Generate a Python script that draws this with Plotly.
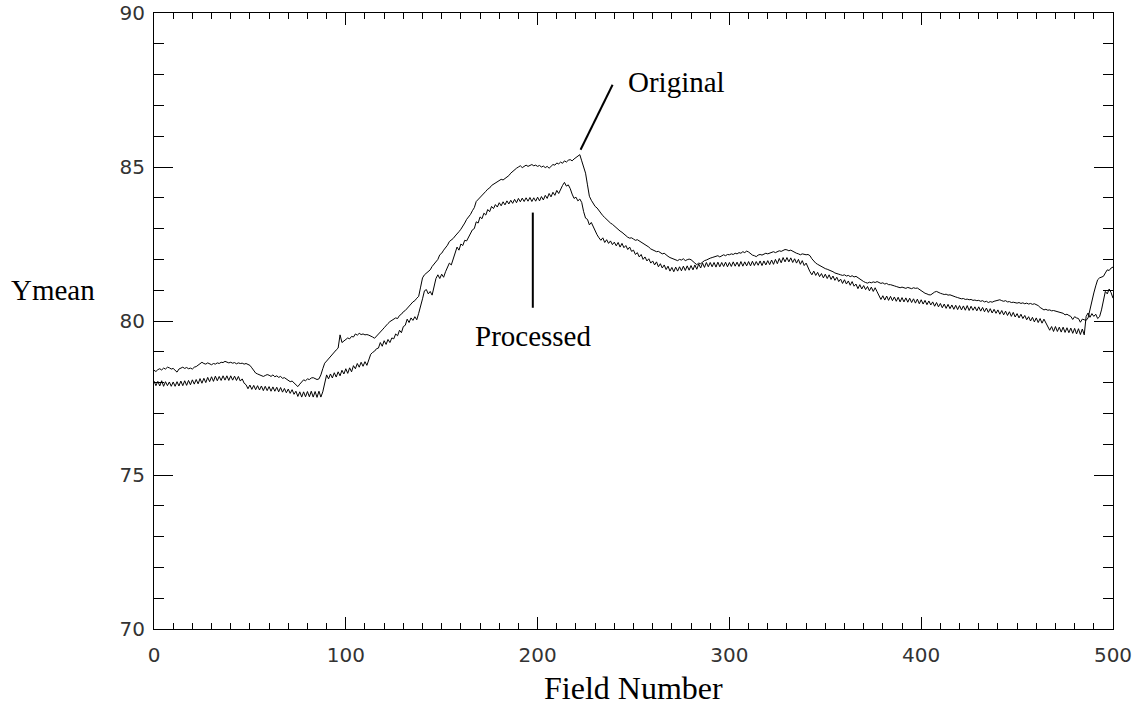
import plotly.graph_objects as go

# Field numbers (x axis)
field_number = list(range(501))

# Ymean of the processed sequence, one value per field (rows of 10 fields)
processed = [
    78.05, 77.90, 78.04, 77.89, 78.06, 77.88, 78.03, 77.90, 78.02, 77.88,
    78.02, 77.88, 78.03, 77.89, 78.05, 77.90, 78.06, 77.91, 78.07, 77.93,
    78.09, 77.95, 78.10, 77.96, 78.13, 77.98, 78.14, 78.00, 78.17, 78.03,
    78.19, 78.04, 78.21, 78.06, 78.20, 78.07, 78.22, 78.08, 78.22, 78.07,
    78.22, 78.08, 78.21, 78.07, 78.20, 78.05, 78.12, 77.98, 77.93, 77.80,
    77.92, 77.78, 77.91, 77.77, 77.90, 77.76, 77.89, 77.74, 77.88, 77.74,
    77.87, 77.72, 77.86, 77.72, 77.85, 77.70, 77.84, 77.69, 77.81, 77.67,
    77.79, 77.65, 77.77, 77.62, 77.72, 77.55, 77.70, 77.53, 77.70, 77.54,
    77.71, 77.54, 77.72, 77.53, 77.71, 77.52, 77.72, 77.53, 77.70, 77.95,
    78.25, 78.12, 78.28, 78.15, 78.32, 78.18, 78.35, 78.22, 78.40, 78.28,
    78.45, 78.30, 78.48, 78.35, 78.55, 78.45, 78.62, 78.50, 78.66, 78.53,
    78.68, 78.56, 78.78, 78.92, 78.98, 79.02, 79.10, 79.12, 79.30, 79.18,
    79.36, 79.24, 79.40, 79.30, 79.45, 79.42, 79.58, 79.52, 79.70, 79.62,
    79.82, 79.86, 80.06, 79.95, 80.10, 80.02, 80.14, 80.04, 80.25, 80.45,
    80.72, 80.98, 81.02, 80.88, 80.96, 80.84, 81.10, 81.38, 81.50, 81.38,
    81.52, 81.42, 81.60, 81.72, 81.88, 81.82, 82.02, 82.16, 82.40, 82.30,
    82.50, 82.45, 82.62, 82.60, 82.72, 82.80, 82.96, 83.00, 83.22, 83.18,
    83.38, 83.32, 83.50, 83.44, 83.62, 83.55, 83.72, 83.65, 83.78, 83.70,
    83.84, 83.74, 83.87, 83.77, 83.90, 83.80, 83.92, 83.82, 83.95, 83.84,
    83.98, 83.87, 83.99, 83.88, 84.00, 83.89, 84.01, 83.88, 84.00, 83.89,
    84.02, 83.90, 84.04, 83.93, 84.08, 83.98, 84.14, 84.03, 84.18, 84.08,
    84.24, 84.14, 84.30, 84.40, 84.50, 84.38, 84.42, 84.30, 84.12, 83.98,
    84.02, 83.90, 83.96, 83.85, 83.55, 83.34, 83.30, 83.12, 83.20, 83.05,
    82.92, 82.80, 82.70, 82.62, 82.70, 82.55, 82.64, 82.52, 82.60, 82.48,
    82.56, 82.44, 82.55, 82.40, 82.52, 82.38, 82.45, 82.32, 82.40, 82.26,
    82.30, 82.16, 82.22, 82.08, 82.16, 82.00, 82.08, 81.95, 82.02, 81.88,
    81.95, 81.82, 81.92, 81.76, 81.86, 81.72, 81.82, 81.67, 81.78, 81.62,
    81.74, 81.60, 81.75, 81.62, 81.76, 81.63, 81.78, 81.64, 81.79, 81.65,
    81.80, 81.66, 81.82, 81.68, 81.85, 81.72, 81.88, 81.74, 81.90, 81.76,
    81.90, 81.76, 81.90, 81.75, 81.91, 81.76, 81.90, 81.77, 81.91, 81.76,
    81.90, 81.77, 81.92, 81.78, 81.91, 81.77, 81.93, 81.78, 81.92, 81.79,
    81.93, 81.79, 81.94, 81.80, 81.93, 81.81, 81.95, 81.80, 81.95, 81.82,
    81.96, 81.83, 81.98, 81.84, 82.00, 81.86, 82.03, 81.89, 82.06, 81.92,
    82.06, 81.92, 82.05, 81.90, 82.02, 81.88, 82.00, 81.84, 81.96, 81.80,
    81.88, 81.72, 81.60, 81.50, 81.62, 81.48, 81.58, 81.44, 81.54, 81.40,
    81.52, 81.38, 81.50, 81.35, 81.46, 81.32, 81.42, 81.28, 81.36, 81.22,
    81.34, 81.20, 81.30, 81.16, 81.28, 81.13, 81.20, 81.05, 81.18, 81.04,
    81.15, 81.02, 81.12, 80.98, 81.10, 80.96, 81.08, 80.95, 80.84, 80.70,
    80.82, 80.68, 80.81, 80.67, 80.80, 80.66, 80.78, 80.64, 80.77, 80.62,
    80.76, 80.62, 80.75, 80.61, 80.74, 80.60, 80.72, 80.58, 80.71, 80.56,
    80.69, 80.55, 80.67, 80.53, 80.65, 80.52, 80.62, 80.48, 80.60, 80.46,
    80.57, 80.43, 80.55, 80.41, 80.54, 80.40, 80.52, 80.38, 80.51, 80.37,
    80.50, 80.36, 80.49, 80.35, 80.50, 80.34, 80.48, 80.35, 80.46, 80.33,
    80.46, 80.32, 80.44, 80.30, 80.42, 80.28, 80.40, 80.26, 80.38, 80.25,
    80.36, 80.22, 80.34, 80.20, 80.32, 80.18, 80.30, 80.15, 80.28, 80.13,
    80.24, 80.10, 80.22, 80.08, 80.18, 80.04, 80.14, 80.00, 80.12, 79.97,
    80.10, 79.95, 80.08, 79.93, 80.06, 79.92, 79.84, 79.70, 79.82, 79.66,
    79.82, 79.66, 79.80, 79.64, 79.80, 79.63, 79.78, 79.62, 79.77, 79.60,
    79.76, 79.58, 79.75, 79.56, 79.74, 79.55, 80.15, 80.26, 80.12, 80.24,
    80.15, 80.22, 80.08, 80.14, 80.36, 80.62, 80.96, 80.88, 81.04, 80.92,
    80.74,
]

# Ymean of the original sequence, one value per field (rows of 10 fields)
original = [
    78.40, 78.36, 78.42, 78.45, 78.41, 78.47, 78.44, 78.50, 78.48, 78.44,
    78.46, 78.40, 78.34, 78.44, 78.47, 78.50, 78.46, 78.49, 78.45, 78.47,
    78.44, 78.50, 78.52, 78.56, 78.60, 78.66, 78.62, 78.60, 78.64, 78.61,
    78.58, 78.62, 78.60, 78.64, 78.62, 78.66, 78.65, 78.69, 78.66, 78.64,
    78.66, 78.63, 78.65, 78.61, 78.64, 78.62, 78.63, 78.60, 78.62, 78.59,
    78.56, 78.48, 78.38, 78.31, 78.28, 78.26, 78.22, 78.20, 78.23, 78.26,
    78.24, 78.20, 78.25, 78.19, 78.22, 78.17, 78.20, 78.14, 78.16, 78.12,
    78.08, 78.03, 78.05, 77.98, 77.94, 77.87, 77.95, 78.02, 78.09, 78.06,
    78.12, 78.10, 78.15, 78.16, 78.12, 78.10, 78.12, 78.25, 78.45, 78.63,
    78.70, 78.78, 78.85, 78.90, 78.98, 79.06, 79.12, 79.55, 79.30, 79.36,
    79.39, 79.45, 79.42, 79.50, 79.48, 79.58, 79.54, 79.60, 79.56, 79.58,
    79.55, 79.56, 79.54, 79.52, 79.48, 79.44, 79.50, 79.56, 79.64, 79.71,
    79.78, 79.86, 79.92, 79.98, 80.02, 80.06, 80.10, 80.08, 80.18, 80.22,
    80.30, 80.34, 80.40, 80.47, 80.55, 80.62, 80.66, 80.74, 80.80, 81.10,
    81.40, 81.50, 81.56, 81.62, 81.66, 81.77, 81.84, 81.92, 82.00, 82.15,
    82.20, 82.30, 82.38, 82.46, 82.58, 82.62, 82.68, 82.76, 82.82, 82.90,
    82.98, 83.06, 83.18, 83.30, 83.38, 83.46, 83.58, 83.68, 83.88, 83.94,
    84.00, 84.08, 84.14, 84.21, 84.28, 84.32, 84.40, 84.44, 84.50, 84.53,
    84.56, 84.60, 84.58, 84.63, 84.66, 84.72, 84.80, 84.86, 84.92, 84.96,
    85.00, 85.04, 84.98, 85.03, 85.06, 85.02, 85.05, 85.08, 85.04, 85.06,
    85.02, 85.05, 85.00, 85.03, 84.98, 85.02, 84.96, 85.04, 85.08, 85.06,
    85.13, 85.10, 85.16, 85.12, 85.20, 85.16, 85.22, 85.24, 85.20, 85.26,
    85.30, 85.36, 85.40, 85.20, 85.00, 84.80, 84.42, 84.05, 83.92, 83.80,
    83.72, 83.67, 83.58, 83.52, 83.42, 83.36, 83.29, 83.24, 83.18, 83.14,
    83.08, 83.02, 82.98, 82.92, 82.88, 82.82, 82.75, 82.72, 82.69, 82.70,
    82.66, 82.62, 82.64, 82.60, 82.56, 82.53, 82.50, 82.44, 82.40, 82.34,
    82.31, 82.28, 82.25, 82.26, 82.22, 82.18, 82.20, 82.14, 82.10, 82.06,
    82.04, 82.00, 81.99, 81.96, 82.00, 81.98, 82.02, 81.96, 81.99, 82.01,
    81.99, 81.92, 81.88, 81.83, 81.88, 81.86, 81.92, 81.96, 81.98, 82.02,
    82.04, 82.06, 82.08, 82.09, 82.12, 82.08, 82.12, 82.15, 82.12, 82.16,
    82.15, 82.18, 82.16, 82.20, 82.18, 82.22, 82.20, 82.25, 82.22, 82.27,
    82.24, 82.18, 82.14, 82.12, 82.09, 82.14, 82.16, 82.14, 82.18, 82.20,
    82.18, 82.20, 82.22, 82.25, 82.22, 82.26, 82.28, 82.26, 82.30, 82.32,
    82.31, 82.28, 82.30, 82.26, 82.24, 82.20, 82.18, 82.15, 82.18, 82.16,
    82.15, 82.16, 82.12, 82.02, 81.94, 81.88, 81.84, 81.80, 81.76, 81.74,
    81.70, 81.68, 81.66, 81.62, 81.60, 81.56, 81.55, 81.52, 81.50, 81.48,
    81.50, 81.46, 81.48, 81.44, 81.47, 81.43, 81.45, 81.40, 81.36, 81.32,
    81.28, 81.25, 81.23, 81.26, 81.24, 81.27, 81.25, 81.28, 81.24, 81.22,
    81.24, 81.20, 81.22, 81.18, 81.18, 81.15, 81.14, 81.12, 81.10, 81.08,
    81.10, 81.07, 81.06, 81.09, 81.07, 81.05, 81.08, 81.06, 81.07, 81.02,
    80.98, 80.94, 80.90, 80.88, 80.85, 80.85, 80.90, 80.94, 80.96, 80.92,
    80.90, 80.88, 80.86, 80.87, 80.84, 80.85, 80.82, 80.80, 80.78, 80.76,
    80.74, 80.72, 80.73, 80.70, 80.71, 80.69, 80.70, 80.67, 80.68, 80.66,
    80.67, 80.64, 80.66, 80.62, 80.64, 80.60, 80.63, 80.61, 80.64, 80.66,
    80.68, 80.69, 80.66, 80.64, 80.66, 80.62, 80.63, 80.60, 80.61, 80.59,
    80.58, 80.60, 80.57, 80.59, 80.56, 80.58, 80.55, 80.57, 80.54, 80.56,
    80.54, 80.50, 80.44, 80.40, 80.36, 80.38, 80.35, 80.36, 80.33, 80.34,
    80.32, 80.31, 80.28, 80.26, 80.25, 80.20, 80.22, 80.18, 80.15, 80.05,
    80.14, 80.10, 80.08, 79.96, 80.06, 80.04, 80.02, 80.10, 80.40, 80.70,
    80.91, 81.14, 81.34, 81.40, 81.42, 81.45, 81.56, 81.66, 81.64, 81.72,
    81.75,
]

x_ticks = [0, 100, 200, 300, 400, 500]
y_ticks = [70, 75, 80, 85, 90]

fig = go.Figure()
fig.add_trace(go.Scatter(x=field_number, y=original, mode="lines",
                         line=dict(color="black", width=1), name="Original",
                         showlegend=False))
fig.add_trace(go.Scatter(x=field_number, y=processed, mode="lines",
                         line=dict(color="black", width=1), name="Processed",
                         showlegend=False))

tick_font = dict(family="DejaVu Sans", size=20, color="#333333")
serif = "Liberation Serif"

fig.update_xaxes(
    range=[0, 500], tickvals=x_ticks, ticktext=[str(v) for v in x_ticks],
    ticks="inside", ticklen=12, tickwidth=1, tickcolor="black",
    showline=True, linecolor="black", linewidth=1, mirror="ticks",
    showgrid=False, zeroline=False, tickfont=tick_font,
    ticklabelstandoff=8, automargin=False,
    minor=dict(dtick=10, ticks="inside", ticklen=6, tickwidth=1,
               tickcolor="black", showgrid=False),
)
fig.update_yaxes(
    range=[70, 90], tickvals=y_ticks, ticktext=[str(v) for v in y_ticks],
    ticks="inside", ticklen=19, tickwidth=1, tickcolor="black",
    showline=True, linecolor="black", linewidth=1, mirror="ticks",
    showgrid=False, zeroline=False, tickfont=tick_font,
    ticklabelstandoff=4, automargin=False,
    minor=dict(dtick=1, ticks="inside", ticklen=10, tickwidth=1,
               tickcolor="black", showgrid=False),
)

# pointer lines for the labels
fig.add_shape(type="line", x0=222.4, y0=85.56, x1=239.1, y1=87.67,
              xref="x", yref="y", line=dict(color="black", width=2))
fig.add_shape(type="line", x0=197.5, y0=83.52, x1=197.5, y1=80.43,
              xref="x", yref="y", line=dict(color="black", width=2))

fig.add_annotation(x=246.1, y=87.75, xref="x", yref="y", text="Original",
                   showarrow=False, xanchor="left", yanchor="middle",
                   font=dict(family=serif, size=29, color="black"))
fig.add_annotation(x=197.5, y=79.5, xref="x", yref="y", text="Processed",
                   showarrow=False, xanchor="center", yanchor="middle",
                   font=dict(family=serif, size=29, color="black"))
fig.add_annotation(x=-0.1516, y=0.550, xref="paper", yref="paper",
                   text="Ymean", showarrow=False, xanchor="left",
                   yanchor="middle",
                   font=dict(family=serif, size=29, color="black"))
fig.add_annotation(x=0.4995, y=-0.0959, xref="paper", yref="paper",
                   text="Field Number", showarrow=False, xanchor="center",
                   yanchor="middle",
                   font=dict(family=serif, size=32, color="black"))

fig.update_layout(
    width=1138, height=705,
    margin=dict(l=154, r=25, t=13, b=76),
    paper_bgcolor="white", plot_bgcolor="white",
    showlegend=False,
)

fig.write_html("out.html")
